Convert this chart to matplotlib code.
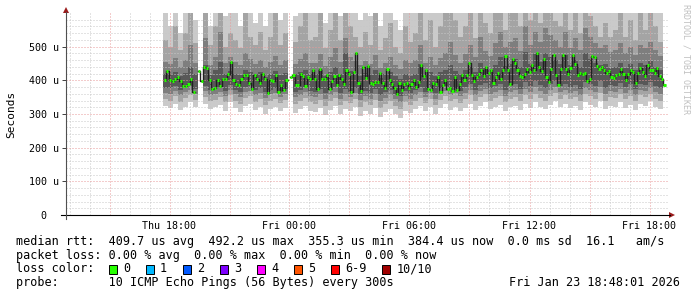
import matplotlib
matplotlib.use("Agg")
import matplotlib.pyplot as plt
import numpy as np
from matplotlib.lines import Line2D
from matplotlib.patches import Polygon, Rectangle

W, H = 697, 297
MONO = "DejaVu Sans Mono"
nan = np.nan

# smoke: sorted pings (1..10), one column every 15 min from Thu 17:40
# x unit is hours since Thu 00:00, y unit is microseconds
smoke_start = 17 + 40 / 60
smoke_step = 0.25
p1 = [325, 318, 330, 312, 322, 335, 320, nan, 330, 315,
      320, 328, 310, 335, 318, 305, 325, 330, 312, 320,
      300, 315, 322, 308, 318, nan, 302, 315, 325, 310,
      305, 318, 298, 312, 325, 300, 315, 308, 320, 295,
      310, 300, 318, 292, 305, 315, 300, 288, 310, 302,
      315, 325, 308, 320, 300, 318, 330, 312, 322, 308,
      318, 330, 312, 325, 335, 315, 322, 328, 310, 320,
      325, 312, 330, 318, 335, 322, 315, 328, 340, 320,
      330, 318, 325, 312, 335, 328, 320, 340, 315, 325,
      322, 335, 318, 328, 312, 330, 325, 338, 320, 315]
p2 = [345, 340, 352, 335, 348, 355, 342, nan, 350, 338,
      342, 350, 335, 355, 340, 330, 348, 352, 336, 345,
      328, 340, 345, 332, 342, nan, 330, 338, 348, 335,
      330, 342, 325, 338, 348, 326, 340, 332, 345, 322,
      335, 328, 342, 318, 330, 340, 325, 315, 335, 328,
      340, 348, 332, 345, 328, 342, 352, 338, 346, 334,
      345, 355, 338, 350, 358, 340, 348, 352, 336, 346,
      350, 338, 355, 345, 360, 348, 340, 354, 362, 346,
      355, 345, 350, 338, 360, 352, 346, 362, 340, 350,
      348, 358, 344, 352, 338, 355, 350, 360, 346, 340]
p3 = [362, 360, 368, 355, 365, 370, 360, nan, 368, 356,
      360, 366, 352, 372, 358, 350, 365, 368, 355, 362,
      348, 358, 362, 350, 360, nan, 350, 356, 365, 352,
      350, 360, 345, 356, 365, 346, 358, 350, 362, 342,
      352, 346, 360, 338, 348, 356, 344, 335, 352, 346,
      356, 365, 350, 362, 346, 360, 368, 355, 362, 352,
      362, 372, 356, 368, 375, 358, 366, 370, 354, 364,
      370, 358, 375, 365, 380, 368, 360, 372, 380, 365,
      372, 362, 368, 356, 378, 370, 364, 380, 358, 368,
      366, 375, 362, 370, 356, 372, 368, 378, 364, 358]
p4 = [378, 376, 382, 370, 380, 384, 375, nan, 382, 372,
      376, 380, 368, 386, 372, 366, 380, 382, 370, 376,
      364, 372, 376, 366, 374, nan, 366, 372, 380, 368,
      366, 375, 362, 372, 380, 362, 374, 366, 376, 358,
      368, 362, 375, 355, 364, 372, 360, 352, 368, 362,
      372, 380, 366, 378, 362, 376, 384, 370, 378, 368,
      380, 388, 372, 385, 392, 376, 384, 388, 372, 382,
      388, 375, 394, 384, 398, 386, 378, 390, 398, 384,
      390, 380, 386, 374, 396, 388, 382, 398, 376, 386,
      384, 392, 380, 388, 374, 390, 386, 396, 382, 376]
p7 = [420, 418, 425, 412, 422, 440, 420, nan, 445, 415,
      430, 455, 418, 428, 420, 415, 432, 426, 418, 425,
      410, 420, 428, 415, 422, nan, 418, 425, 432, 420,
      418, 430, 412, 425, 440, 420, 480, 428, 420, 412,
      422, 415, 430, 408, 418, 425, 412, 405, 420, 414,
      420, 450, 418, 426, 412, 424, 432, 445, 428, 418,
      430, 440, 424, 452, 438, 430, 446, 470, 442, 450,
      462, 440, 485, 448, 478, 455, 482, 470, 460, 448,
      475, 445, 460, 440, 480, 462, 452, 445, 448, 438,
      440, 452, 438, 448, 432, 450, 445, 456, 440, 430]
p8 = [455, 448, 465, 440, 460, 505, 452, nan, 525, 445,
      470, 545, 452, 468, 455, 445, 480, 462, 450, 460,
      440, 455, 472, 445, 460, nan, 450, 462, 480, 452,
      452, 478, 442, 468, 495, 455, 525, 470, 458, 445,
      458, 448, 475, 438, 452, 468, 445, 435, 460, 450,
      460, 505, 452, 470, 445, 465, 480, 515, 475, 452,
      478, 505, 468, 530, 488, 472, 510, 545, 498, 515,
      525, 488, 560, 505, 545, 515, 555, 535, 520, 498,
      545, 495, 525, 490, 555, 530, 510, 495, 505, 485,
      490, 510, 482, 500, 475, 505, 495, 515, 490, 472]
p9 = [520, 500, 560, 490, 540, 600, 510, nan, 620, 505,
      560, 640, 500, 540, 520, 495, 600, 530, 505, 545,
      490, 530, 600, 505, 540, nan, 515, 560, 620, 520,
      530, 600, 495, 550, 640, 520, 620, 560, 530, 500,
      545, 505, 600, 490, 525, 570, 500, 480, 560, 515,
      540, 620, 520, 580, 500, 560, 600, 640, 580, 530,
      560, 620, 525, 650, 570, 540, 620, 650, 550, 600,
      640, 560, 650, 580, 650, 570, 650, 620, 575, 560,
      650, 550, 610, 540, 650, 590, 560, 530, 570, 530,
      550, 600, 530, 580, 520, 600, 550, 620, 560, 515]
p10 = [600, 560, 650, 540, 620, 650, 580, nan, 650, 560,
       650, 650, 590, 620, 600, 560, 650, 610, 570, 640,
       560, 620, 650, 580, 630, nan, 590, 650, 650, 600,
       620, 650, 570, 640, 650, 590, 650, 650, 620, 580,
       640, 590, 650, 560, 610, 650, 580, 550, 650, 600,
       650, 650, 650, 650, 640, 650, 650, 650, 650, 650,
       650, 650, 650, 650, 650, 650, 650, 650, 650, 650,
       650, 650, 650, 650, 650, 650, 650, 650, 650, 650,
       650, 650, 650, 650, 650, 650, 650, 650, 650, 620,
       650, 650, 640, 650, 630, 650, 650, 650, 640, 620]

# median rtt (us), two stretches split at the midnight gap
median_a = [402, 428, 400, 398, 405, 410, 397, 382, 382, 388, 405, 365, nan,
            427, 398, 440, 438, 402, 375, 376, 400, 384, 405, 405, 418, 454, 400,
            388, 385, 405, 417, 417, 392, 373, 415, 405, 392, 420, 403, 363, 400,
            398, 415, 365, 385, 370, 400, nan]
median_b = [410, 417, 385, 385, 420, 413, 382, 410, 405, 430, 405, 375, 435,
            405, 405, 415, 375, 397, 412, 385, 415, 403, 388, 430, 418, 365, 425,
            480, 392, 367, 440, 408, 442, 392, 390, 395, 395, 422, 392, 378, 435,
            400, 390, 378, 359, 392, 370, 388, 392, 378, 388, 402, 380,
            395, 447, 412, 432, 375, 370, 392, 390, 410, 365, 385, 400, 375, 378,
            367, 410, 372, 390, 417, 400, 415, 452, 417, 398, 410, 420, 432, 412,
            440, 423, 430, 392, 410, 423, 405, 430, 471, 432, 390, 464, 452, 432,
            412, 410, 420, 435, 425, 446, 430, 480, 440,
            427, 464, 410, 395, 435, 475, 415, 385, 435, 475, 435, 420, 438, 475,
            450, 415, 422, 420, 422, 397, 405, 473, 470, 442, 435, 440, 430, 423,
            428, 410, 408, 415, 420, 435, 418, 402, 420, 430, 425, 392, 422, 438,
            425, 412, 446, 430, 430, 422, 438, 412, 405, 385]
median_a_span = (17.76, 23.98)
median_b_span = (24.08, 42.75)

xtick_hours = [18, 24, 30, 36, 42]
xtick_labels = ["Thu 18:00", "Fri 00:00", "Fri 06:00", "Fri 12:00", "Fri 18:00"]
ytick_vals = [0, 100, 200, 300, 400, 500]
ytick_labels = ["0  ", "100 u", "200 u", "300 u", "400 u", "500 u"]

loss_labels = ["0", "1", "2", "3", "4", "5", "6-9", "10/10"]
loss_colors = ["#26ff00", "#00b8ff", "#0059ff", "#7e00ff", "#ff00ff",
               "#ff5500", "#ff0000", "#a00000"]

stat_lines = [
    "median rtt:  409.7 us avg  492.2 us max  355.3 us min  384.4 us now  0.0 ms sd  16.1   am/s",
    "packet loss: 0.00 % avg  0.00 % max  0.00 % min  0.00 % now",
    "loss color:",
    "probe:       10 ICMP Echo Pings (56 Bytes) every 300s",
]
timestamp = "Fri Jan 23 18:48:01 2026"


def fpos(x, y):
    return x / W, 1 - y / H


fig = plt.figure(figsize=(W / 100, H / 100), dpi=100)
fig.patch.set_facecolor("white")
ax = fig.add_axes([66 / W, 82 / H, 603 / W, 202 / H])

smoke_t = smoke_start + smoke_step * np.arange(len(p1))
bands = [(p1, p10, "#cacaca"), (p2, p9, "#a4a4a4"),
         (p3, p8, "#7e7e7e"), (p4, p7, "#585858")]
for lo, hi, col in bands:
    lo = np.array(lo, float)
    hi = np.array(hi, float)
    ok = np.isfinite(lo) & np.isfinite(hi)
    ax.bar(smoke_t[ok], hi[ok] - lo[ok], bottom=lo[ok], width=smoke_step,
           align="edge", color=col, linewidth=0, antialiased=False, zorder=1)

med = np.array(median_a + median_b, float)
t_med = np.r_[np.linspace(*median_a_span, len(median_a)),
              np.linspace(*median_b_span, len(median_b))]
dt = t_med[1] - t_med[0]
ax.step(t_med, med, where="mid", color="#202020", lw=1.0, zorder=3)
ax.hlines(med, t_med - dt * 0.4, t_med + dt * 0.4, color=loss_colors[0],
          lw=2.2, zorder=4)

ax.set_xlim(12.825, 42.975)
ax.set_ylim(0, 600)
for s in ax.spines.values():
    s.set_visible(False)

ax.set_xticks(np.arange(15, 43, 3))
ax.set_xticklabels([xtick_labels[xtick_hours.index(h)] if h in xtick_hours else ""
                    for h in range(15, 43, 3)])
ax.set_xticks(np.arange(13, 43, 1), minor=True)
ax.set_yticks(ytick_vals)
ax.set_yticklabels(ytick_labels)
ax.set_yticks(np.arange(0, 600, 20), minor=True)
ax.tick_params(axis="x", which="both", length=0, pad=4.5, labelsize=7.2)
ax.tick_params(axis="y", which="major", length=3, width=0.7, color="#404040",
               pad=2.2, labelsize=7.2)
ax.tick_params(axis="y", which="minor", length=0)
for lab in ax.get_xticklabels() + ax.get_yticklabels():
    lab.set_fontfamily(MONO)

ax.set_axisbelow("line")
ax.grid(which="minor", color="#c8c8c8", lw=0.72, linestyle=(0, (1, 2)))
ax.grid(which="major", color="#e89a9a", lw=0.72, linestyle=(0, (1, 2)))

# axis lines with arrow heads
fig.add_artist(Line2D(*zip(fpos(61, 215), fpos(670, 215)),
                      transform=fig.transFigure, color="black", lw=0.8))
fig.add_artist(Line2D(*zip(fpos(66, 219), fpos(66, 12)),
                      transform=fig.transFigure, color="#505050", lw=0.8))
fig.add_artist(Polygon([fpos(669, 212), fpos(669, 218), fpos(675, 215)],
                       closed=True, transform=fig.transFigure, color="#9b1c1c", lw=0))
fig.add_artist(Polygon([fpos(63, 13), fpos(69, 13), fpos(66, 7)],
                       closed=True, transform=fig.transFigure, color="#9b1c1c", lw=0))

fig.text(*fpos(11, 114), "Seconds", rotation=90, ha="center", va="center",
         family=MONO, fontsize=8)
fig.text(*fpos(686, 59), "RRDTOOL / TOBI OETIKER", rotation=270, ha="center",
         va="center", family=MONO, fontsize=6, color="#c0c0c0")

line_y = [241.5, 255.2, 269, 282.7]
for txt, y in zip(stat_lines, line_y):
    fig.text(*fpos(16, y), txt, ha="left", va="center", family=MONO, fontsize=8.5)
fig.text(*fpos(680, line_y[3]), timestamp, ha="right", va="center",
         family=MONO, fontsize=8.5)

bx = 108.5
for lab, col in zip(loss_labels, loss_colors):
    x0, y0 = fpos(bx, line_y[2] + 4.5)
    fig.add_artist(Rectangle((x0, y0), 8.5 / W, 8.5 / H, transform=fig.transFigure,
                             facecolor=col, edgecolor="black", lw=0.7))
    fig.text(*fpos(bx + 14.5, line_y[2]), lab, ha="left", va="center",
             family=MONO, fontsize=8.5)
    bx += 37 + 7.13 * (len(lab) - 1)

fig.savefig("out.png", dpi=100)
